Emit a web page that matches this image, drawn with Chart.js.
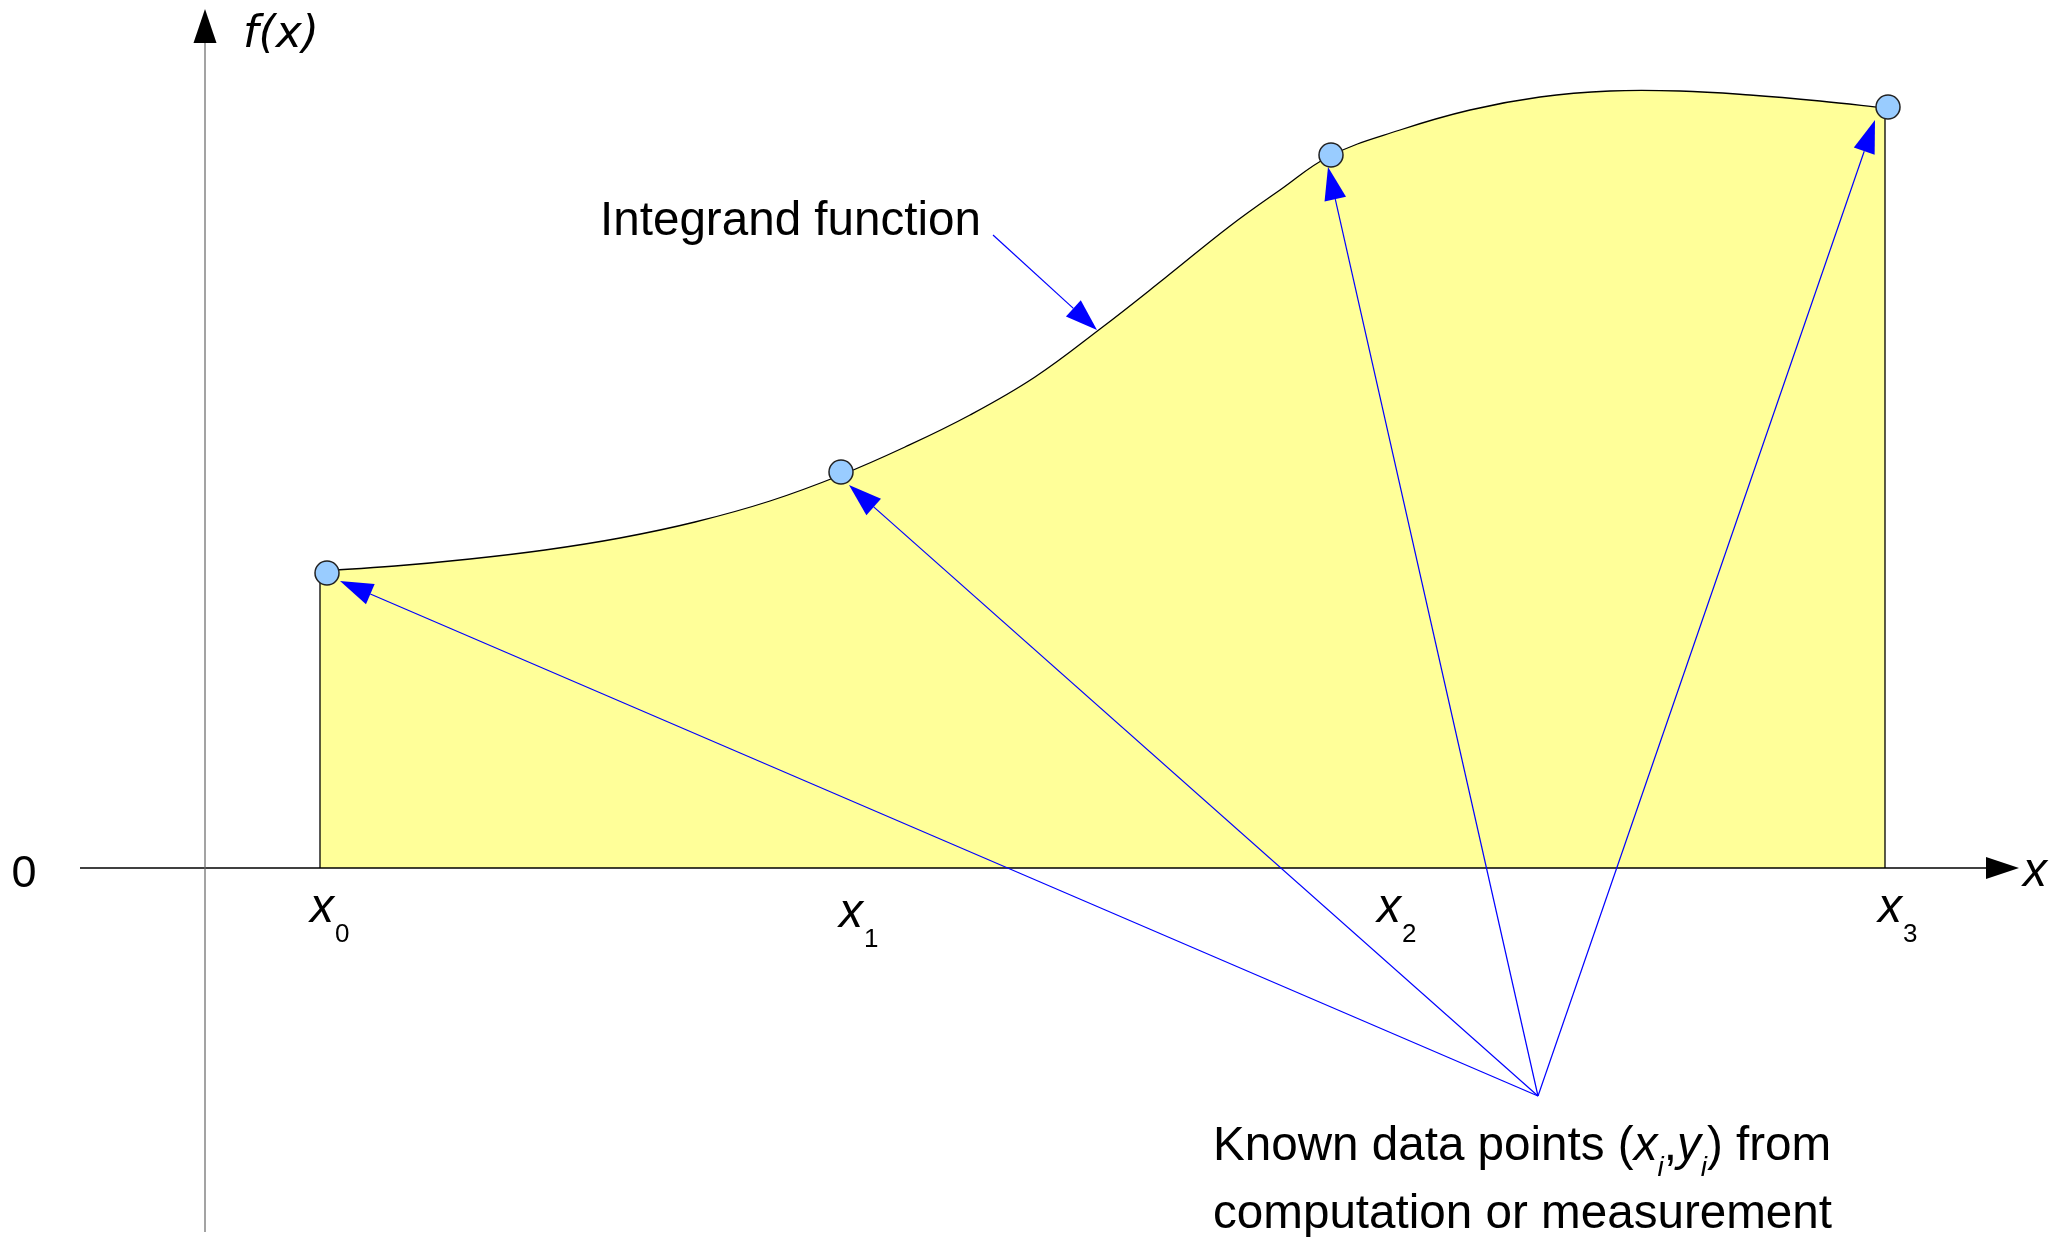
<!DOCTYPE html>
<html>
<head>
<meta charset="utf-8">
<script src="https://cdn.jsdelivr.net/npm/chart.js@4.4.1/dist/chart.umd.min.js"></script>
<style>
html,body{margin:0;padding:0;background:#fff;}
#wrap{width:2056px;height:1237px;position:relative;}
canvas{display:block;}
</style>
</head>
<body>
<div id="wrap"><canvas id="c" width="2056" height="1237"></canvas></div>
<script>
// ---- data (diagram units) ----
const curveX = [1.15, 1.90, 2.65, 3.40, 4.15, 4.90, 5.65, 6.36, 7.00, 7.65, 8.30, 8.95, 9.60, 10.25, 10.75, 11.25, 11.95, 12.65, 13.35, 14.05, 14.75, 15.45, 16.15, 16.80];
const curveY = [2.97, 3.02, 3.09, 3.18, 3.30, 3.46, 3.67, 3.93, 4.21, 4.53, 4.91, 5.39, 5.90, 6.42, 6.78, 7.12, 7.38, 7.58, 7.71, 7.77, 7.77, 7.73, 7.67, 7.60];
const knownX = [1.22, 6.36, 11.26, 16.83];
const knownY = [2.95, 3.96, 7.13, 7.61];
const knownSubs = ['0', '1', '2', '3'];
const arrowTipX = [1.35, 6.44, 11.23, 16.70];
const arrowTipY = [2.87, 3.83, 7.01, 7.48];
const calloutOrigin = [13.33, -2.28];
const integrandArrowFrom = [7.88, 6.33];
const integrandArrowTo = [8.92, 5.38];
const xAxisRange = [-1.25, 18.14];
const yAxisRange = [-3.64, 8.59];

// ---- layout (not data) ----
const FONT = '"Liberation Sans", Arial, sans-serif';
const labelPos = {
  zero: [-1.81, -0.19],
  fx: [0.38, 8.21],
  xax: [18.18, -0.18],
  xi: [[1.05, -0.54], [6.34, -0.59], [11.72, -0.54], [16.73, -0.54]],
  integrand: [3.95, 6.33],
  known1: [10.08, -2.92],
  known2: [10.08, -3.60]
};

const curveData = curveX.map((x, i) => ({x, y: curveY[i]}));
const knownData = knownX.map((x, i) => ({x, y: knownY[i]}));
const leftEdge = [{x: curveX[0], y: 0}, {x: curveX[0], y: curveY[0]}];
const rightEdge = [{x: curveX[curveX.length - 1], y: 0}, {x: curveX[curveX.length - 1], y: curveY[curveY.length - 1]}];

function arrowHead(ctx, x1, y1, x2, y2, len, half, color) {
  const a = Math.atan2(y2 - y1, x2 - x1);
  const bx = x2 - len * Math.cos(a), by = y2 - len * Math.sin(a);
  ctx.beginPath();
  ctx.moveTo(x2, y2);
  ctx.lineTo(bx + half * Math.sin(a), by - half * Math.cos(a));
  ctx.lineTo(bx - half * Math.sin(a), by + half * Math.cos(a));
  ctx.closePath();
  ctx.fillStyle = color;
  ctx.fill();
  return [bx, by];
}
function arrow(ctx, x1, y1, x2, y2, color, lw, len, half) {
  const base = arrowHead(ctx, x1, y1, x2, y2, len, half, color);
  ctx.beginPath();
  ctx.moveTo(x1, y1);
  ctx.lineTo(base[0], base[1]);
  ctx.strokeStyle = color;
  ctx.lineWidth = lw;
  ctx.stroke();
}

const diagramPlugin = {
  id: 'diagram',
  afterDatasetDraw(chart, args) {
    if (args.index !== 1) return; // after edge lines and curve, before markers (index 0)
    const ctx = chart.ctx;
    const sx = chart.scales.x, sy = chart.scales.y;
    const px = v => sx.getPixelForValue(v), py = v => sy.getPixelForValue(v);
    ctx.save();
    // axes
    const y0 = py(0), x0 = px(0);
    ctx.strokeStyle = '#000'; ctx.lineWidth = 1.5;
    ctx.beginPath(); ctx.moveTo(px(xAxisRange[0]), y0); ctx.lineTo(px(xAxisRange[1]) - 30, y0); ctx.stroke();
    arrowHead(ctx, px(xAxisRange[0]), y0, px(xAxisRange[1]), y0, 33, 11, '#000');
    ctx.strokeStyle = '#666'; ctx.lineWidth = 1.2;
    ctx.beginPath(); ctx.moveTo(x0, py(yAxisRange[0])); ctx.lineTo(x0, py(yAxisRange[1]) + 30); ctx.stroke();
    arrowHead(ctx, x0, py(yAxisRange[0]), x0, py(yAxisRange[1]), 34, 11.5, '#000');
    // callout arrows
    const ox = px(calloutOrigin[0]), oy = py(calloutOrigin[1]);
    for (let i = 0; i < arrowTipX.length; i++) {
      arrow(ctx, ox, oy, px(arrowTipX[i]), py(arrowTipY[i]), '#0000ff', 1.2, 33, 11);
    }
    arrow(ctx, px(integrandArrowFrom[0]), py(integrandArrowFrom[1]), px(integrandArrowTo[0]), py(integrandArrowTo[1]), '#0000ff', 1.2, 32, 11);
    // texts
    ctx.fillStyle = '#000';
    ctx.textBaseline = 'alphabetic';
    ctx.textAlign = 'center';
    ctx.font = '45px ' + FONT;
    ctx.fillText('0', px(labelPos.zero[0]), py(labelPos.zero[1]));
    ctx.textAlign = 'left';
    ctx.font = 'oblique 44px "DejaVu Sans", sans-serif';
    ctx.fillText('f(x)', px(labelPos.fx[0]), py(labelPos.fx[1]));
    ctx.font = 'italic 48px ' + FONT;
    ctx.fillText('x', px(labelPos.xax[0]), py(labelPos.xax[1]));
    for (let i = 0; i < knownSubs.length; i++) {
      const lx = px(labelPos.xi[i][0]), ly = py(labelPos.xi[i][1]);
      ctx.font = 'italic 48px ' + FONT;
      ctx.fillText('x', lx, ly);
      const w = ctx.measureText('x').width;
      ctx.font = '26px ' + FONT;
      ctx.fillText(knownSubs[i], lx + w + 1, ly + 20);
    }
    ctx.font = '47.6px ' + FONT;
    ctx.fillText('Integrand function', px(labelPos.integrand[0]), py(labelPos.integrand[1]));
    // Known data points (x_i, y_i) from
    let kx = px(labelPos.known1[0]);
    const ky = py(labelPos.known1[1]);
    const runs = [
      ['Known data points (', '47.6px ' + FONT, 0],
      ['x', 'italic 47.6px ' + FONT, 0],
      ['i', 'italic 28px ' + FONT, 16],
      [',', '47.6px ' + FONT, 0],
      ['y', 'italic 47.6px ' + FONT, 0],
      ['i', 'italic 28px ' + FONT, 16],
      [') from', '47.6px ' + FONT, 0]
    ];
    runs.forEach(r => {
      ctx.font = r[1];
      ctx.fillText(r[0], kx, ky + r[2]);
      kx += ctx.measureText(r[0]).width;
    });
    ctx.font = '47.6px ' + FONT;
    ctx.fillText('computation or measurement', px(labelPos.known2[0]), py(labelPos.known2[1]));
    ctx.restore();
  }
};

new Chart(document.getElementById('c'), {
  type: 'line',
  data: {
    datasets: [
      {
        data: knownData, showLine: false, pointRadius: 12, pointBackgroundColor: '#99ccff',
        pointBorderColor: '#222', pointBorderWidth: 1.5, clip: false, fill: false
      },
      {
        data: leftEdge, borderColor: '#000', borderWidth: 1.3, pointRadius: 0, fill: false, clip: false
      },
      {
        data: rightEdge, borderColor: '#000', borderWidth: 1.3, pointRadius: 0, fill: false, clip: false
      },
      {
        data: curveData, borderColor: '#000', borderWidth: 1.3, backgroundColor: '#ffff99',
        fill: 'origin', tension: 0.4, pointRadius: 0, clip: false
      }
    ]
  },
  options: {
    responsive: false,
    animation: false,
    devicePixelRatio: 1,
    layout: {padding: 0, autoPadding: false},
    plugins: {legend: {display: false}, tooltip: {enabled: false}},
    scales: {
      x: {type: 'linear', min: -2.05, max: 18.51, display: false},
      y: {type: 'linear', min: -3.69, max: 8.68, display: false}
    }
  },
  plugins: [diagramPlugin]
});
</script>
</body>
</html>
